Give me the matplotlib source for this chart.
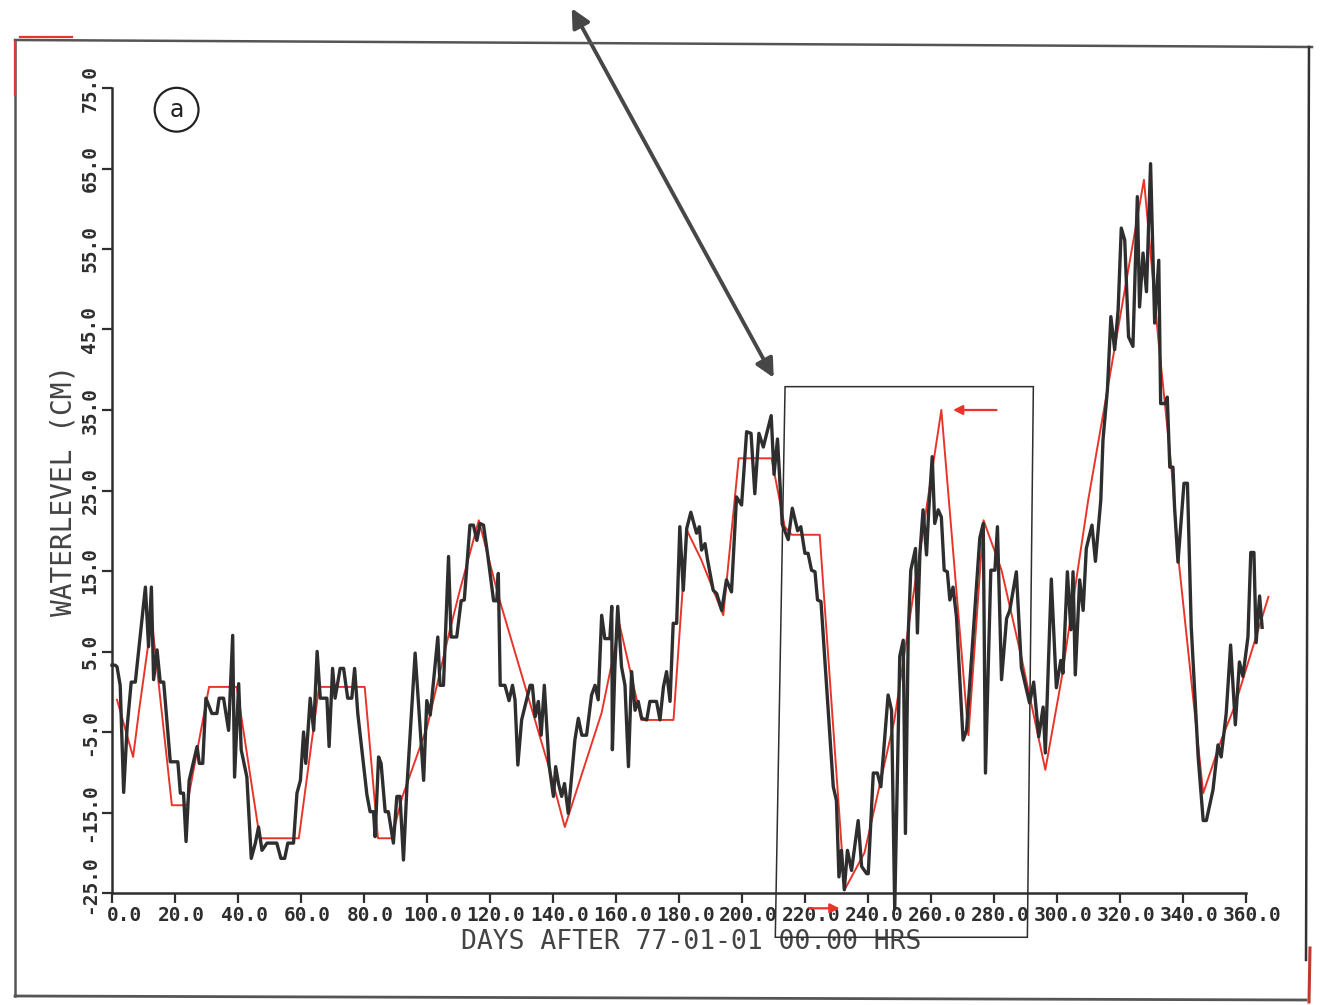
import matplotlib
matplotlib.use("Agg")
import matplotlib.pyplot as plt
import matplotlib.transforms as mtrans
from matplotlib.lines import Line2D
from matplotlib.patches import Polygon
import numpy as np

# ---------------------------------------------------------------------------
# data (days after 77-01-01, water level in cm)
# ---------------------------------------------------------------------------
obs_days = [
    0.0, 1.0, 1.6, 2.6, 3.7, 4.8, 6.1, 7.4, 10.6, 11.6, 12.5, 13.2, 14.3, 15.3,
    16.4, 18.5, 20.9, 21.7, 22.7, 23.5, 24.5, 27.0, 27.7, 28.8, 29.8, 31.7,
    33.3, 34.0, 35.4, 37.0, 38.3, 38.9, 40.2, 41.0, 42.8, 44.2, 45.5, 46.5,
    47.6, 49.2, 52.3, 53.6, 54.8, 55.8, 57.6, 58.7, 59.8, 60.8, 61.5, 62.9,
    64.0, 65.1, 66.1, 68.2, 68.9, 70.0, 70.8, 72.4, 73.5, 74.8, 76.1, 77.0,
    78.0, 80.9, 81.9, 83.0, 83.5, 84.6, 85.4, 86.7, 87.7, 89.3, 90.4, 91.4,
    92.5, 93.6, 96.2, 98.9, 99.9, 101.0, 103.4, 104.1, 105.2, 106.8, 107.6,
    109.4, 110.8, 111.8, 113.6, 114.7, 115.8, 116.8, 117.9, 119.3, 121.1,
    122.1, 122.6, 123.2, 124.7, 126.0, 127.1, 127.9, 128.8, 130.0, 132.7,
    133.4, 134.3, 135.3, 136.2, 137.2, 138.7, 140.1, 140.8, 141.7, 142.7,
    143.6, 144.8, 146.9, 148.0, 149.1, 150.6, 152.2, 153.3, 154.3, 155.4,
    156.4, 158.0, 158.6, 158.8, 159.6, 160.5, 161.7, 162.8, 163.9, 164.9,
    166.0, 167.0, 168.1, 169.7, 170.7, 172.8, 173.9, 175.0, 176.0, 177.1,
    178.1, 179.2, 180.2, 181.3, 182.4, 183.7, 185.5, 186.4, 187.1, 188.2,
    189.0, 190.8, 191.9, 193.5, 195.0, 196.6, 198.2, 199.8, 201.4, 202.8,
    204.0, 205.3, 206.7, 209.2, 210.1, 211.2, 212.7, 214.6, 215.9, 217.6,
    218.6, 219.9, 220.9, 222.0, 223.1, 223.9, 225.0, 228.9, 229.9, 230.7,
    231.5, 232.4, 233.4, 234.7, 236.8, 237.9, 239.5, 240.0, 241.6, 242.9,
    244.0, 246.3, 247.4, 248.4, 250.0, 251.1, 251.8, 252.7, 253.5, 255.0,
    255.6, 256.4, 257.4, 258.5, 259.2, 260.3, 261.1, 262.2, 263.2, 264.1,
    265.1, 265.9, 266.9, 268.0, 270.1, 271.2, 275.4, 276.5, 277.2, 278.9,
    280.2, 281.0, 282.3, 283.9, 284.9, 287.0, 288.6, 291.2, 292.5, 294.1,
    295.5, 296.2, 298.1, 299.7, 301.1, 301.8, 303.2, 304.3, 305.0, 305.7,
    307.1, 308.2, 309.2, 311.0, 312.1, 313.8, 314.5, 315.9, 317.0, 318.2,
    319.3, 320.3, 321.4, 322.6, 324.0, 325.4, 326.1, 327.2, 328.3, 329.6,
    330.9, 332.2, 332.8, 334.3, 334.9, 335.7, 336.7, 337.2, 338.3, 340.2,
    341.3, 342.5, 344.7, 346.3, 347.3, 349.4, 351.0, 352.0, 353.6, 355.0,
    356.5, 357.8, 358.9, 360.5, 361.4, 362.4, 363.1, 364.2, 365.0,
]
obs_level = [
    3.3, 3.3, 3.1, 0.8, -12.5, -4.4, 1.2, 1.2, 13.0, 5.6, 13.0, 1.5, 5.2, 1.2,
    1.2, -8.7, -8.7, -12.6, -12.6, -18.6, -11.0, -6.8, -8.9, -8.9, -0.8, -2.7,
    -2.7, -0.8, -0.8, -4.8, 7.0, -10.6, 1.0, -7.2, -10.6, -20.7, -18.8, -16.8,
    -19.7, -18.8, -18.8, -20.7, -20.7, -18.8, -18.8, -12.6, -11.0, -5.0, -8.9, -0.8,
    -4.8, 5.0, -0.8, -0.8, -6.8, 2.9, -0.8, 2.9, 2.9, -0.8, -0.8, 2.9,
    -2.7, -12.8, -14.9, -14.9, -18.0, -8.1, -8.9, -14.9, -14.9, -18.8, -13.0, -13.0,
    -20.9, -11.8, 4.8, -11.0, -1.1, -2.9, 6.8, 0.8, 0.8, 16.8, 6.8,
    6.8, 11.3, 11.4, 20.7, 20.7, 18.8, 20.9, 20.7, 16.8, 11.3,
    11.3, 14.7, 0.8, 0.8, -1.1, 0.8, -1.0, -9.1, -3.5, 0.8,
    0.8, -3.1, -1.2, -5.4, 0.8, -9.1, -13.0, -9.3, -11.4, -13.0,
    -11.4, -15.1, -6.0, -3.3, -5.4, -5.4, -0.4, 0.8, -1.0, 9.5,
    6.6, 6.6, 10.6, -7.2, 3.1, 10.6, 3.1, 0.8, -9.3, 2.5,
    -2.3, -1.2, -3.3, -3.5, -1.2, -1.2, -3.5, 0.6, 2.5, -1.2,
    8.5, 8.5, 20.5, 12.6, 20.3, 22.3, 19.7, 20.5, 17.6, 18.4,
    16.4, 12.6, 12.2, 10.1, 13.9, 12.4, 24.2, 23.2, 32.3, 32.1,
    24.6, 32.1, 30.4, 34.3, 27.0, 31.4, 20.8, 18.9, 22.8, 20.0,
    20.5, 17.2, 17.2, 15.1, 14.9, 11.4, 11.2, -11.8, -13.5, -23.0,
    -19.7, -24.6, -19.7, -22.2, -16.0, -21.7, -22.6, -22.6, -10.1, -10.1,
    -11.8, -0.4, -2.3, -27.0, 4.4, 6.4, -17.6, 7.3, 15.1, 17.8,
    7.3, 17.2, 22.6, 17.0, 22.6, 29.2, 20.9, 22.6, 21.7, 15.1,
    14.9, 11.4, 13.0, 9.3, -6.0, -4.8, 19.1, 20.9, -10.1, 15.1,
    15.1, 20.5, 1.5, 9.1, 10.1, 14.9, 3.0, -1.4, 1.2, -5.6,
    -1.9, -7.6, 14.0, 0.5, 3.9, 2.3, 14.9, 7.7, 14.9, 2.1,
    13.9, 10.1, 17.8, 20.7, 16.2, 23.8, 31.3, 37.5, 46.6, 42.5,
    47.4, 57.6, 56.1, 44.1, 42.9, 61.5, 47.8, 54.5, 49.7, 65.6,
    45.8, 53.6, 35.8, 35.8, 36.6, 27.9, 27.9, 23.0, 16.1, 25.9,
    25.9, 8.1, -8.1, -16.0, -16.0, -12.2, -6.6, -8.1, -2.7, 5.8,
    -4.1, 3.7, 1.9, 6.8, 17.3, 17.3, 6.1, 11.9, 8.0,
]

model_days = [
    1.6, 6.7, 8.6, 12.6, 19.0, 23.8, 30.8, 39.6, 46.9, 59.3, 65.7, 80.2, 84.4,
    88.8, 92.0, 100.0, 107.0, 110.4, 116.4, 122.7, 138.6, 143.7, 155.4, 161.1,
    168.0, 178.2, 182.4, 187.0, 194.0, 198.9, 209.3, 213.5, 215.7, 224.6,
    232.5, 238.8, 248.3, 263.2, 271.8, 276.6, 282.3, 288.6, 296.2, 301.3,
    309.8, 327.5, 332.0, 336.2, 338.4, 346.3, 352.0, 356.2, 367.0,
]
model_level = [
    -1.0, -8.1, -2.3, 9.0, -14.1, -14.1, 0.6, 0.6, -18.2, -18.2, 0.6, 0.6, -18.2,
    -18.2, -13.2, -4.4, 7.3, 12.6, 21.3, 11.8, -9.3, -16.8, -2.6, 8.3,
    -3.5, -3.5, 20.1, 16.4, 9.5, 29.0, 29.0, 20.5, 19.5, 19.5,
    -24.6, -20.0, -3.5, 35.0, -5.4, 21.3, 15.1, 4.3, -9.7, 1.5,
    23.8, 63.6, 44.0, 27.9, 16.7, -12.6, -6.0, -1.9, 11.8,
]

x_ticks = np.arange(0, 361, 20)
y_ticks = np.arange(-25, 76, 10)

INK = "#2e2e2e"
RED = "#e8352b"
FONT = "DejaVu Sans Mono"

W, H = 1324, 1005
fig = plt.figure(figsize=(W / 100, H / 100), dpi=100)
ax = fig.add_axes([112 / W, 1 - 893 / H, 1158 / W, 805 / H])


def px(x, y):
    return x / W, 1 - y / H


# scanned page frame
def frame(pts, color=INK, lw=1.6):
    xs, ys = zip(*[px(*p) for p in pts])
    fig.add_artist(Line2D(xs, ys, color=color, lw=lw, transform=fig.transFigure))


frame([(15, 40), (1312, 47)], color="#555", lw=1.8)
frame([(15, 40), (15, 996)], color="#555", lw=1.8)
frame([(15, 996), (1306, 1000)], color="#555", lw=2.0)
frame([(1309, 47), (1306, 960)], color="#333", lw=1.8)
frame([(1310, 948), (1309, 1002)], color="#c0392b", lw=2.2)
frame([(20, 37), (72, 37)], color=RED, lw=1.6)
frame([(15, 42), (15, 95)], color=RED, lw=1.6)

ax.plot(model_days, model_level, color=RED, lw=1.4, zorder=3, clip_on=False)
ax.plot(obs_days, obs_level, color=INK, lw=2.4, zorder=4, clip_on=False)

ax.set_xlim(0, 367.5)
ax.set_ylim(-25, 75)
for side in ("top", "right"):
    ax.spines[side].set_visible(False)
ax.spines["bottom"].set_bounds(0, 360)
ax.spines["left"].set_bounds(-25, 75)
for side in ("bottom", "left"):
    ax.spines[side].set_color(INK)
    ax.spines[side].set_linewidth(1.8)

ax.set_xticks(x_ticks)
ax.set_xticklabels([f"{t:.1f}" for t in x_ticks], fontsize=14, family=FONT,
                   fontweight="bold", color=INK)
ax.set_yticks(y_ticks)
ax.set_yticklabels([f"{t:.1f}" for t in y_ticks], fontsize=14, family=FONT,
                   fontweight="bold", color=INK, rotation=90, va="center")
ax.tick_params(direction="out", length=7, width=1.6, color=INK, pad=2)

# plotter put the x labels a little right of their ticks
shift = mtrans.ScaledTranslation(6 / 100, 0, fig.dpi_scale_trans)
for i, lab in enumerate(ax.get_xticklabels()):
    extra = mtrans.ScaledTranslation(6 / 100, 0, fig.dpi_scale_trans) if i == 0 else mtrans.Affine2D()
    lab.set_transform(lab.get_transform() + shift + extra)
ax.get_yticklabels()[0].set_transform(
    ax.get_yticklabels()[0].get_transform()
    + mtrans.ScaledTranslation(0, 8 / 100, fig.dpi_scale_trans))

ax.set_xlabel("DAYS AFTER 77-01-01 00.00 HRS", fontsize=19, family=FONT,
              color="#444", labelpad=3)
ax.set_ylabel("WATERLEVEL (CM)", fontsize=20, family=FONT, color="#444",
              labelpad=2)

# zoom box, double arrow and small pointer arrows
box = Polygon([(213.6, 37.9), (210.5, -30.5), (290.5, -30.5), (292.4, 37.9)],
              closed=True, fill=False, ec=INK, lw=1.1, clip_on=False, zorder=5)
ax.add_patch(box)
ax.annotate("", xy=(145.9, 84.9), xytext=(210.0, 39.0),
            arrowprops=dict(arrowstyle="<|-|>", color="#474747", lw=2.8,
                            mutation_scale=28, shrinkA=0, shrinkB=0),
            annotation_clip=False)
ax.annotate("", xy=(266.9, 35.0), xytext=(280.7, 35.0),
            arrowprops=dict(arrowstyle="-|>", color=RED, lw=1.6,
                            mutation_scale=14, shrinkA=0, shrinkB=0),
            annotation_clip=False)
ax.annotate("", xy=(230.9, -26.9), xytext=(221.4, -26.9),
            arrowprops=dict(arrowstyle="-|>", color=RED, lw=1.6,
                            mutation_scale=14, shrinkA=0, shrinkB=0),
            annotation_clip=False)

ax.text(20.5, 72.3, "a", fontsize=17, family="DejaVu Sans", color="#222",
        ha="center", va="center",
        bbox=dict(boxstyle="circle,pad=0.42", fc="none", ec="#222", lw=1.6))

fig.savefig("out.png", dpi=100)
